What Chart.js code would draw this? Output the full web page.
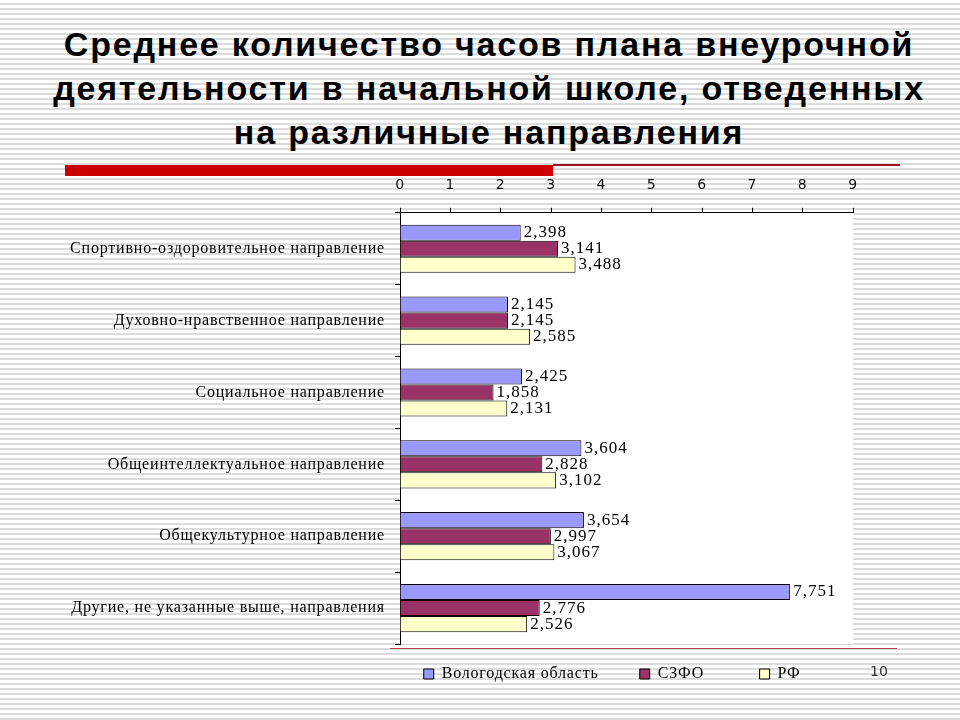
<!DOCTYPE html>
<html lang="ru">
<head>
<meta charset="utf-8">
<script src="https://cdn.jsdelivr.net/npm/chart.js@4"></script>
<style>
  html, body { margin: 0; padding: 0; }
  body {
    width: 960px; height: 720px; position: relative; overflow: hidden;
    background: repeating-linear-gradient(to bottom, #ffffff 0px, #ffffff 3px, #dcdcdc 3px, #dcdcdc 5px);
  }
  #title {
    position: absolute; left: 9px; top: 22px; width: 960px;
    text-align: center; font-family: "Liberation Sans", Arial, sans-serif;
    font-weight: bold; font-size: 34px; letter-spacing: 1.8px; line-height: 44px; color: #000;
  }
  #redBar { position: absolute; left: 65px; top: 165px; width: 488px; height: 11px; background: #cc0000; }
  #redLine { position: absolute; left: 553px; top: 164px; width: 347px; height: 2px; background: #a01020; }
  #bottomLine { position: absolute; left: 390px; top: 648px; width: 507px; height: 1px; background: #b04050; }
  #pageNum { position: absolute; left: 870px; top: 663px; font: 14px "DejaVu Sans", sans-serif; color: #333; }
  #wrap { position: absolute; left: 0; top: 158px; width: 960px; height: 542px; }
</style>
</head>
<body>
<div id="title">Среднее количество часов плана внеурочной<br>деятельности в начальной школе, отведенных<br>на различные направления</div>
<div id="redBar"></div>
<div id="redLine"></div>
<div id="wrap"><canvas id="hoursChart"></canvas></div>
<div id="bottomLine"></div>
<div id="pageNum">10</div>

<script>
const categories = [
    "Спортивно-оздоровительное направление",
    "Духовно-нравственное направление",
    "Социальное направление",
    "Общеинтеллектуальное направление",
    "Общекультурное направление",
    "Другие, не указанные выше, направления"
];
const seriesNames = ["Вологодская область", "СЗФО", "РФ"];
const vologdaValues = [2.398, 2.145, 2.425, 3.604, 3.654, 7.751];
const szfoValues = [3.141, 2.145, 1.858, 2.828, 2.997, 2.776];
const rfValues = [3.488, 2.585, 2.131, 3.102, 3.067, 2.526];
const seriesColors = ["#9999ff", "#993366", "#ffffcc"];
const xTicks = [0, 1, 2, 3, 4, 5, 6, 7, 8, 9];

const serif = "'Liberation Serif', 'Times New Roman', serif";

// the old slide renders its text a bit wide, so add some letter spacing
const wideText = {
    id: "wideText",
    beforeUpdate(chart) { chart.ctx.letterSpacing = "0.8px"; },
    beforeDraw(chart) { chart.ctx.letterSpacing = "0.8px"; }
};

// white plot background
const plotBackground = {
    id: "plotBackground",
    beforeDraw(chart) {
        const { ctx, chartArea: a } = chart;
        ctx.save();
        ctx.fillStyle = "#ffffff";
        ctx.fillRect(a.left, a.top, a.right - a.left, a.bottom - a.top);
        ctx.restore();
    }
};

// value labels at the end of each bar
const valueLabels = {
    id: "valueLabels",
    afterDatasetsDraw(chart) {
        const ctx = chart.ctx;
        ctx.save();
        ctx.letterSpacing = "1px";
        ctx.font = "17px " + serif;
        ctx.fillStyle = "#000";
        ctx.textAlign = "left";
        ctx.textBaseline = "middle";
        chart.data.datasets.forEach((ds, i) => {
            chart.getDatasetMeta(i).data.forEach((bar, j) => {
                const txt = ds.data[j].toFixed(3).replace(".", ",");
                ctx.fillText(txt, bar.x + 3, bar.y);
            });
        });
        ctx.restore();
    }
};

const legendGaps = ["    ", "       ", "      "];

new Chart(document.getElementById("hoursChart"), {
    type: "bar",
    data: {
        labels: categories,
        datasets: [
            { label: seriesNames[0], data: vologdaValues },
            { label: seriesNames[1], data: szfoValues },
            { label: seriesNames[2], data: rfValues }
        ].map((ds, i) => Object.assign(ds, {
            backgroundColor: seriesColors[i],
            borderColor: "#000",
            borderWidth: 1,
            categoryPercentage: 0.67,
            barPercentage: 1.0
        }))
    },
    options: {
        indexAxis: "y",
        responsive: true,
        maintainAspectRatio: false,
        animation: false,
        layout: { padding: { left: 10, right: 107, top: 5, bottom: 8 } },
        scales: {
            x: {
                position: "top",
                min: 0,
                max: 9,
                afterBuildTicks: s => { s.ticks = xTicks.map(v => ({ value: v })); },
                ticks: {
                    padding: 14,
                    color: "#111",
                    font: { family: "'DejaVu Sans', sans-serif", size: 14 }
                },
                grid: { drawOnChartArea: false, tickLength: 5, color: "#000" },
                border: { color: "#000", width: 1 }
            },
            y: {
                afterFit: s => { s.width = 390; },
                ticks: {
                    padding: 10,
                    color: "#000",
                    font: { family: serif, size: 16 }
                },
                grid: { drawOnChartArea: false, tickLength: 5, color: "#000" },
                border: { color: "#000", width: 1 }
            }
        },
        plugins: {
            legend: {
                position: "bottom",
                fullSize: false,
                labels: {
                    boxWidth: 10,
                    boxHeight: 10,
                    padding: 22,
                    color: "#000",
                    font: { family: serif, size: 16 },
                    generateLabels(chart) {
                        const items = Chart.defaults.plugins.legend.labels.generateLabels(chart);
                        items.forEach((it, i) => { it.text = it.text + legendGaps[i]; });
                        return items;
                    }
                }
            },
            tooltip: { enabled: false }
        }
    },
    plugins: [wideText, plotBackground, valueLabels]
});
</script>
</body>
</html>
